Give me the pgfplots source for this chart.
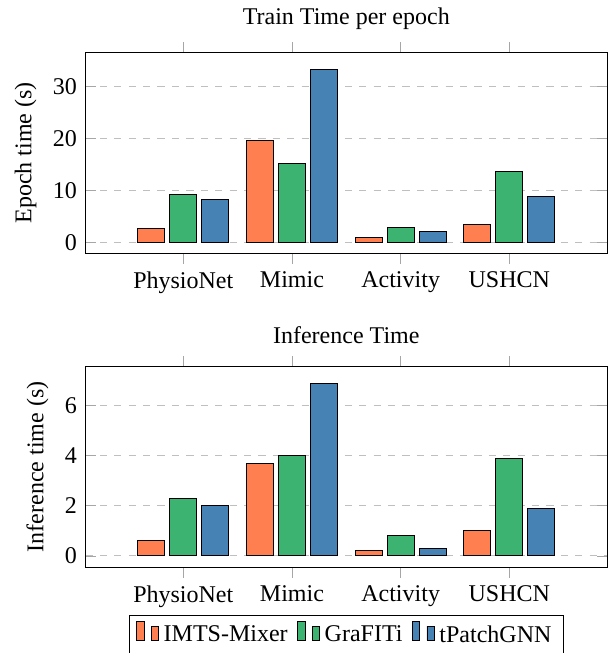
\documentclass[border=0pt]{standalone}
\usepackage{fontspec}
\setmainfont{Liberation Serif}
\usepackage{pgfplots}
\pgfplotsset{compat=1.18}
\definecolor{cOr}{RGB}{255,127,80}
\definecolor{cGr}{RGB}{60,179,113}
\definecolor{cBl}{RGB}{70,130,180}
\begin{document}
\begin{tikzpicture}
\pgfplotsset{
  mystyle/.style={
    scale only axis, width=217.3pt, height=83.6pt,
    ybar=2pt, bar width=0.25,
    xmin=-0.9, xmax=3.9,
    xtick={0,1,2,3}, xticklabels={PhysioNet,Mimic,Activity,USHCN},
    xtick align=outside,
    ymajorgrids, grid style={dashed, gray!50},
    tick style={gray!70},
    /pgf/number format/assume math mode=true,
  }
}
\begin{axis}[mystyle,
  title={Train Time per epoch},
  ylabel={Epoch time (s)},
  ymin=-2.1, ymax=36.5, ytick={0,10,20,30}]
\addplot[fill=cOr, draw=black] coordinates {(0,2.75) (1,19.5) (2,1.0) (3,3.4)};
\addplot[fill=cGr, draw=black] coordinates {(0,9.2) (1,15.1) (2,2.9) (3,13.7)};
\addplot[fill=cBl, draw=black] coordinates {(0,8.3) (1,33.3) (2,2.0) (3,8.9)};
\end{axis}
\begin{axis}[mystyle, at={(0,-130.8pt)},
  title={Inference Time},
  ylabel={Inference time (s)},
  ymin=-0.46, ymax=7.56, ytick={0,2,4,6},
  legend columns=3,
  legend style={at={(0.5,-0.24)}, anchor=north, draw=black,
    /tikz/every even column/.append style={column sep=2pt}}]
\addplot[fill=cOr, draw=black] coordinates {(0,0.6) (1,3.7) (2,0.2) (3,1.0)};
\addplot[fill=cGr, draw=black] coordinates {(0,2.3) (1,4.0) (2,0.8) (3,3.9)};
\addplot[fill=cBl, draw=black] coordinates {(0,2.0) (1,6.9) (2,0.3) (3,1.9)};
\legend{IMTS-Mixer,GraFITi,tPatchGNN}
\end{axis}
\pgfresetboundingbox
\path[use as bounding box] (-35.6pt,-166.5pt) rectangle (217.7pt,105.5pt);
\end{tikzpicture}
\end{document}
